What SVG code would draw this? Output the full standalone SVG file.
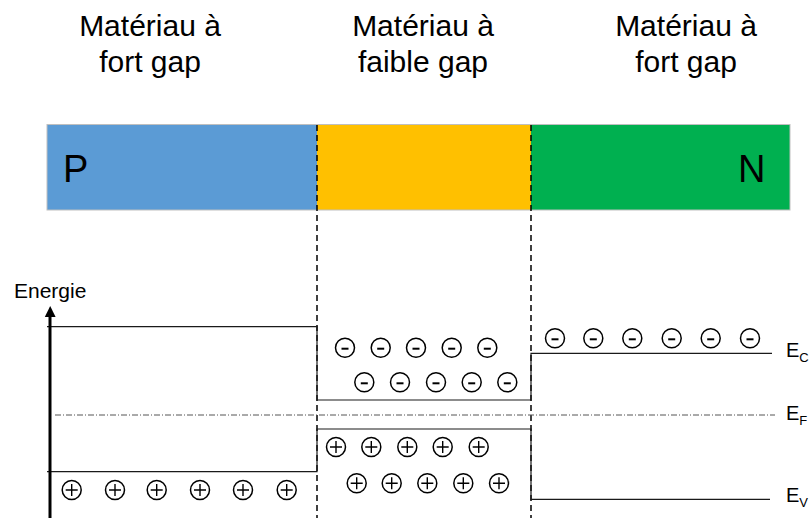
<svg xmlns="http://www.w3.org/2000/svg" width="811" height="518" viewBox="0 0 811 518">
<style>
  text { font-family: "Liberation Sans", Arial, sans-serif; fill: #000; }
  .head { font-size: 30px; text-anchor: middle; }
  .big { font-size: 38px; }
  .lbl { font-size: 20px; }
  .sub { font-size: 13px; }
  .band { stroke: #1a1a1a; stroke-width: 1.2; fill: none; }
  .sep { stroke: #000; stroke-width: 1.5; stroke-dasharray: 6 4; fill: none; }
  .fermi { stroke: #555; stroke-width: 1; stroke-dasharray: 6 2 1 2; fill: none; }
</style>
<defs>
  <g id="plus" fill="#fff" stroke="#000" stroke-width="1.5"><circle r="9.5"/><path d="M-6 0H6M0 -6V6" fill="none" stroke-width="1.4"/></g>
  <g id="minus" fill="#fff" stroke="#000" stroke-width="1.5"><circle r="9.5"/><path d="M-3.5 1H3.5" fill="none" stroke-width="2"/></g>
</defs>

<g id="headings">
  <g id="head-left"><text class="head" x="150" y="36">Matériau à</text><text class="head" x="150" y="72">fort gap</text></g>
  <g id="head-mid"><text class="head" x="423" y="36">Matériau à</text><text class="head" x="423" y="72">faible gap</text></g>
  <g id="head-right"><text class="head" x="686" y="36">Matériau à</text><text class="head" x="686" y="72">fort gap</text></g>
</g>

<g id="bar">
  <rect id="region-p" x="47" y="124.5" width="270" height="85.5" fill="#5B9BD5"/>
  <rect id="region-mid" x="317" y="124.5" width="214" height="85.5" fill="#FFC000"/>
  <rect id="region-n" x="531" y="124.5" width="259" height="85.5" fill="#00B050"/>
  <rect x="47" y="124.5" width="743" height="85.5" fill="none" stroke="#bfbfbf" stroke-width="1"/>
  <text class="big" x="63" y="181.5">P</text>
  <text class="big" x="738" y="181.5">N</text>
</g>

<g id="connectors">
  <line class="sep" x1="317" y1="125" x2="317" y2="518"/>
  <line class="sep" x1="531" y1="125" x2="531" y2="518"/>
  <path class="band" d="M47 326.7H317V400H531V353.3H772"/>
  <path class="band" d="M47 471.7H317V429H531V499.3H770"/>
  <line class="fermi" x1="55" y1="415" x2="775" y2="415"/>
  <line x1="50" y1="518" x2="50" y2="314" stroke="#000" stroke-width="3"/>
  <path d="M50.2 306L44.8 317H55.6Z" fill="#000"/>
</g>

<g id="labels">
  <text class="lbl" x="14" y="298" style="font-size:21px">Energie</text>
  <text class="lbl" x="786" y="357">E<tspan class="sub" dy="5">C</tspan></text>
  <text class="lbl" x="786" y="420">E<tspan class="sub" dy="5">F</tspan></text>
  <text class="lbl" x="786" y="501.5">E<tspan class="sub" dy="5">V</tspan></text>
</g>

<g id="holes-p">
  <use href="#plus" x="71.7" y="490"/>
  <use href="#plus" x="115" y="490"/>
  <use href="#plus" x="156.7" y="490"/>
  <use href="#plus" x="200" y="490"/>
  <use href="#plus" x="243" y="490"/>
  <use href="#plus" x="286.7" y="490"/>
</g>

<g id="electrons-mid">
  <use href="#minus" x="345" y="347.7"/>
  <use href="#minus" x="380.7" y="347.7"/>
  <use href="#minus" x="416" y="347.7"/>
  <use href="#minus" x="451.7" y="347.7"/>
  <use href="#minus" x="487.3" y="347.7"/>
  <use href="#minus" x="364.3" y="382.3"/>
  <use href="#minus" x="400" y="382.3"/>
  <use href="#minus" x="436" y="382.3"/>
  <use href="#minus" x="471.7" y="382.3"/>
  <use href="#minus" x="507.3" y="382.3"/>
</g>

<g id="holes-mid">
  <use href="#plus" x="336" y="447"/>
  <use href="#plus" x="371.3" y="447"/>
  <use href="#plus" x="407.3" y="447"/>
  <use href="#plus" x="442.7" y="447"/>
  <use href="#plus" x="478.7" y="447"/>
  <use href="#plus" x="356.7" y="483.3"/>
  <use href="#plus" x="391.7" y="483.3"/>
  <use href="#plus" x="427.3" y="483.3"/>
  <use href="#plus" x="463.3" y="483.3"/>
  <use href="#plus" x="499" y="483.3"/>
</g>

<g id="electrons-n">
  <use href="#minus" x="555" y="338.3"/>
  <use href="#minus" x="593.3" y="338.3"/>
  <use href="#minus" x="632.3" y="338.3"/>
  <use href="#minus" x="671.7" y="338.3"/>
  <use href="#minus" x="710.7" y="338.3"/>
  <use href="#minus" x="750" y="338.3"/>
</g>
</svg>
